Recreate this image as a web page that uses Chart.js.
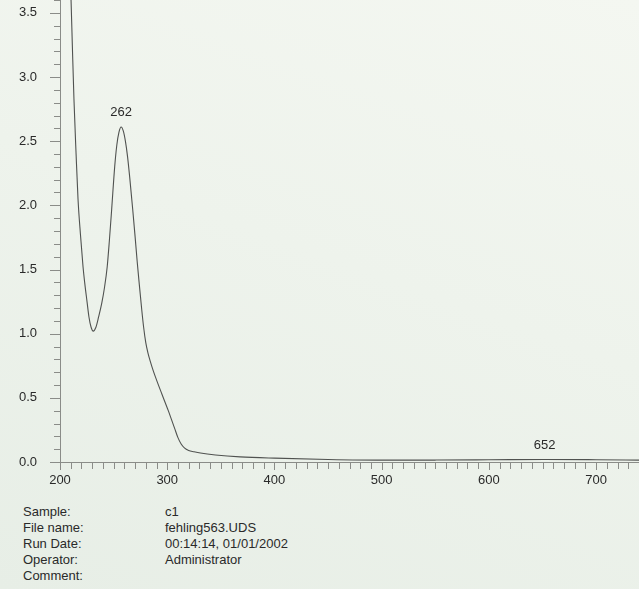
<!DOCTYPE html>
<html>
<head>
<meta charset="utf-8">
<script src="https://cdn.jsdelivr.net/npm/chart.js@4.4.1/dist/chart.umd.min.js"></script>
<style>
  html, body { margin: 0; padding: 0; }
  body {
    width: 639px; height: 589px; overflow: hidden; position: relative;
    background: linear-gradient(200deg, #f4f7f1 0%, #eef3ec 45%, #e7eee6 100%);
    font-family: "Liberation Sans", Arial, sans-serif;
    color: #2a2a2a;
  }
  #spectrum { position: absolute; left: 0; top: 0; }
  .info { position: absolute; font-size: 13px; line-height: 16px; }
  #infoKeys { left: 23px; top: 504px; }
  #infoVals { left: 165px; top: 504px; }
</style>
</head>
<body>
<canvas id="spectrum" width="639" height="500"></canvas>
<div class="info" id="infoKeys">Sample:<br>File name:<br>Run Date:<br>Operator:<br>Comment:</div>
<div class="info" id="infoVals">c1<br>fehling563.UDS<br>00:14:14, 01/01/2002<br>Administrator<br></div>
<script>
// wavelength (nm) and absorbance
const wavelengths = [209, 210.3, 211.5, 213, 215, 216.8, 219, 221.5, 223, 225.2, 227, 229, 231, 233.5, 236, 239, 241.5, 244, 246, 248.2, 251, 253, 255, 257, 259, 261, 263, 265, 267.8, 270, 272, 274, 276.2, 278, 280, 282, 284, 287, 290, 295, 301, 304, 307, 310, 313, 316, 320, 325, 331, 345, 368, 400, 450, 500, 550, 600, 652, 700, 740];
const absorbance  = [3.9, 3.6, 3.25, 2.83, 2.4, 2.05, 1.78, 1.52, 1.4, 1.25, 1.13, 1.05, 1.02, 1.05, 1.13, 1.24, 1.36, 1.52, 1.72, 1.97, 2.3, 2.47, 2.57, 2.61, 2.58, 2.5, 2.38, 2.22, 1.97, 1.76, 1.56, 1.38, 1.19, 1.05, 0.93, 0.85, 0.79, 0.71, 0.64, 0.53, 0.4, 0.33, 0.26, 0.19, 0.14, 0.11, 0.09, 0.08, 0.07, 0.055, 0.04, 0.03, 0.02, 0.015, 0.015, 0.017, 0.02, 0.018, 0.015];

// peak markers printed by the instrument
const peakX = [257, 652];
const peakY = [2.61, 0.02];
const peakText = ['262', '652'];

const xMin = 200, xMax = 740;
const yMin = 0, yMax = 3.6;

const axisGray = '#8a8c88';
const textColor = '#2a2a2a';

// draws short minor ticks and longer major ticks outside the axes
const tickMarks = {
    id: 'tickMarks',
    afterDraw(chart) {
        const ctx = chart.ctx;
        const xs = chart.scales.x, ys = chart.scales.y;
        ctx.save();
        ctx.strokeStyle = axisGray;
        ctx.lineWidth = 1;
        ctx.beginPath();
        ys.ticks.forEach(t => {
            const y = Math.round(ys.getPixelForValue(t.value)) + 0.5;
            const major = Math.round(t.value * 10) % 5 === 0;
            const len = major ? 10 : 6;
            ctx.moveTo(ys.right - len, y);
            ctx.lineTo(ys.right, y);
        });
        xs.ticks.forEach(t => {
            const x = Math.round(xs.getPixelForValue(t.value)) + 0.5;
            const major = Math.round(t.value) % 100 === 0;
            const len = major ? 8 : 7;
            ctx.moveTo(x, xs.top);
            ctx.lineTo(x, xs.top + len);
        });
        ctx.stroke();
        ctx.restore();
    }
};

const peakLabels = {
    id: 'peakLabels',
    afterDatasetsDraw(chart) {
        const ctx = chart.ctx;
        const xs = chart.scales.x, ys = chart.scales.y;
        ctx.save();
        ctx.fillStyle = textColor;
        ctx.font = '13px "Liberation Sans", Arial, sans-serif';
        ctx.textAlign = 'center';
        ctx.textBaseline = 'bottom';
        peakText.forEach((txt, i) => {
            ctx.fillText(txt, xs.getPixelForValue(peakX[i]), ys.getPixelForValue(peakY[i]) - 8);
        });
        ctx.restore();
    }
};

new Chart(document.getElementById('spectrum'), {
    type: 'line',
    data: {
        datasets: [{
            data: wavelengths.map((w, i) => ({ x: w, y: absorbance[i] })),
            borderColor: '#505250',
            borderWidth: 1.1,
            pointRadius: 0,
            fill: false,
            cubicInterpolationMode: 'monotone'
        }]
    },
    options: {
        responsive: false,
        animation: false,
        events: [],
        layout: { padding: 0 },
        plugins: { legend: { display: false }, tooltip: { enabled: false } },
        scales: {
            x: {
                type: 'linear',
                min: xMin, max: xMax,
                grid: { display: false },
                border: { display: true, color: axisGray, width: 1 },
                ticks: {
                    stepSize: 10,
                    autoSkip: false,
                    maxRotation: 0,
                    padding: 3,
                    color: textColor,
                    font: { family: '"Liberation Sans", Arial, sans-serif', size: 13 },
                    callback: v => (Math.round(v) % 100 === 0 ? String(Math.round(v)) : '')
                },
                afterFit(scale) {
                    scale.height = 38;
                    scale.paddingLeft = 0; scale.paddingRight = 0;
                }
            },
            y: {
                type: 'linear',
                min: yMin, max: yMax,
                grid: { display: false },
                border: { display: true, color: axisGray, width: 1 },
                ticks: {
                    stepSize: 0.1,
                    autoSkip: false,
                    padding: 15,
                    color: textColor,
                    font: { family: '"Liberation Sans", Arial, sans-serif', size: 13 },
                    callback: v => (Math.round(v * 10) % 5 === 0 ? v.toFixed(1) : '')
                },
                afterFit(scale) {
                    scale.width = 60;
                    scale.paddingTop = 0; scale.paddingBottom = 0;
                }
            }
        }
    },
    plugins: [tickMarks, peakLabels]
});
</script>
</body>
</html>
